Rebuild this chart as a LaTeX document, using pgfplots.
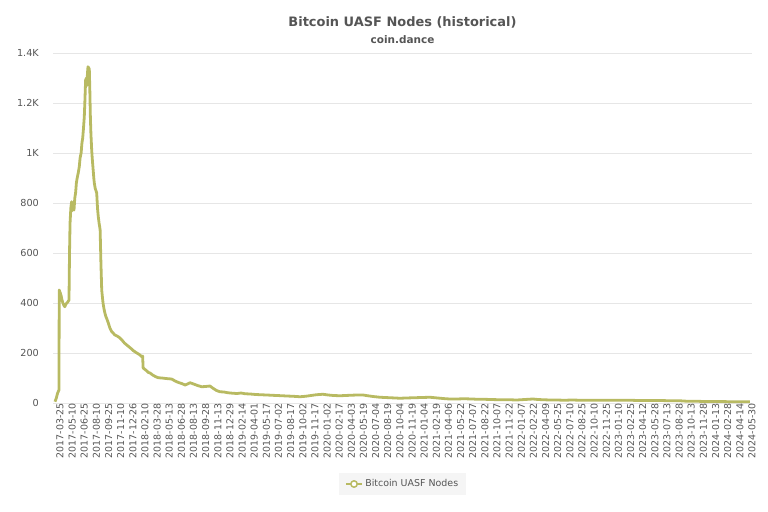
\documentclass[border=0pt]{standalone}
\usepackage{pgfplots}
\pgfplotsset{compat=1.18}
\usepackage{fontspec}
\setmainfont{DejaVu Sans}
\definecolor{lineol}{RGB}{184,186,98}
\definecolor{txtgray}{RGB}{85,85,85}
\definecolor{gridc}{RGB}{230,230,230}
\definecolor{legbg}{RGB}{245,245,245}
\begin{document}
\begin{tikzpicture}
\path[use as bounding box] (-53bp,-109bp) rectangle (715bp,403bp);
\begin{axis}[
  name=ax,
  scale only axis,
  width=699bp, height=350bp,
  xmin=-7.6, xmax=2641,
  ymin=0, ymax=1400,
  axis line style={draw=none},
  tick style={draw=none},
  ymajorgrids, grid style={gridc, line width=0.8bp},
  ytick={0,200,400,600,800,1000,1200,1400},
  yticklabels={0,200,400,600,800,1K,1.2K,1.4K},
  xtick={0,46,...,2622},
  xticklabels={2017-03-25,2017-05-10,2017-06-25,2017-08-10,2017-09-25,2017-11-10,2017-12-26,2018-02-10,2018-03-28,2018-05-13,2018-06-28,2018-08-13,2018-09-28,2018-11-13,2018-12-29,2019-02-14,2019-04-01,2019-05-17,2019-07-02,2019-08-17,2019-10-02,2019-11-17,2020-01-02,2020-02-17,2020-04-03,2020-05-19,2020-07-04,2020-08-19,2020-10-04,2020-11-19,2021-01-04,2021-02-19,2021-04-06,2021-05-22,2021-07-07,2021-08-22,2021-10-07,2021-11-22,2022-01-07,2022-02-22,2022-04-09,2022-05-25,2022-07-10,2022-08-25,2022-10-10,2022-11-25,2023-01-10,2023-02-25,2023-04-12,2023-05-28,2023-07-13,2023-08-28,2023-10-13,2023-11-28,2024-01-13,2024-02-28,2024-04-14,2024-05-30},
  xticklabel style={rotate=90, anchor=east, font=\fontsize{9.5}{11}\selectfont, text=txtgray, inner sep=0pt, yshift=-5bp},
  yticklabel style={font=\fontsize{9.7}{11}\selectfont, text=txtgray, inner sep=0pt, xshift=-14bp},
  /pgf/number format/assume math mode=true,
  legend style={at={(0.5,0)}, yshift=-81bp, anchor=center, fill=legbg, draw=none,
    font=\fontsize{9.5}{11}\selectfont, text=txtgray, inner xsep=6bp, inner ysep=5bp},
  legend cell align=left,
  legend image code/.code={
    \draw[lineol, line width=2.5bp] (0bp,0bp) -- (16bp,0bp);
    \draw[lineol, line width=1.5bp, fill=white] (8bp,0bp) circle (3.2bp);
  },
]
\addplot[lineol, line width=2.8bp, line join=round] coordinates {
(0,5) (5,20) (10,40) (15,52) (16,452) (20,440) (23,430) (27,410) (30,400) (34,390) (37,385) (41,395) (45,400) (49,405) (53,412)
(55,600) (57,720) (60,780) (63,805) (66,770) (68,790) (72,772) (75,820) (78,840) (81,880) (84,900) (88,920) (92,945) (95,980) (99,1000)
(102,1040) (105,1060) (108,1100) (111,1145) (113,1200) (116,1292) (119,1300) (121,1270) (123,1320) (125,1345) (128,1340) (130,1335)
(132,1250) (134,1145) (136,1080) (139,1012) (141,980) (144,940) (147,900) (149,880) (152,860) (155,850) (158,840) (161,780) (164,745)
(167,720) (170,700) (171,692) (174,560) (177,452) (180,420) (182,400) (185,380) (189,360) (193,345) (197,335) (202,320) (208,300) (215,285)
(220,280) (227,272) (235,268) (241,264) (246,260) (255,250) (263,240) (272,232) (280,225) (288,218) (296,210) (303,205) (310,200) (318,195) (324,190) (329,185) (332,188) (334,140)
(340,135) (348,128) (354,122) (360,120) (370,112) (380,106) (391,101) (405,100) (420,98) (430,97) (442,96) (455,88) (468,82) (480,78) (493,72)
(502,76) (512,81) (525,76) (540,70) (556,65) (570,66) (587,68) (600,58) (612,50) (625,45) (640,44) (655,41) (674,39) (690,38) (705,40) (720,37) (739,36)
(760,34) (780,33) (802,32) (820,31) (840,30) (860,29) (878,28) (900,27) (915,26) (928,25) (950,27) (970,30) (990,33) (1015,35) (1035,32) (1055,30) (1080,29)
(1100,30) (1120,31) (1145,32) (1167,32) (1185,29) (1205,26) (1231,23) (1250,22) (1270,21) (1290,20) (1307,19) (1330,20) (1360,21) (1390,22) (1421,23)
(1440,21) (1460,19) (1480,17) (1497,16) (1520,16) (1550,17) (1580,16) (1600,15) (1622,15) (1650,14) (1686,13) (1720,13) (1750,12) (1780,14) (1811,16)
(1830,14) (1850,13) (1876,12) (1900,12) (1930,11) (1960,12) (1990,11) (2020,11) (2065,11) (2100,11) (2140,11) (2179,11) (2210,10) (2250,10) (2290,10)
(2330,9) (2368,9) (2380,8) (2395,7) (2430,7) (2460,6) (2490,6) (2520,6) (2560,5) (2600,5) (2633,5)
};
\addlegendentry{Bitcoin UASF Nodes}
\end{axis}
\node[font=\bfseries\fontsize{13}{15}\selectfont, text=txtgray] at ([yshift=31bp]ax.north) {Bitcoin UASF Nodes (historical)};
\node[font=\bfseries\fontsize{10.5}{12}\selectfont, text=txtgray] at ([yshift=13bp]ax.north) {coin.dance};
\end{tikzpicture}
\end{document}
